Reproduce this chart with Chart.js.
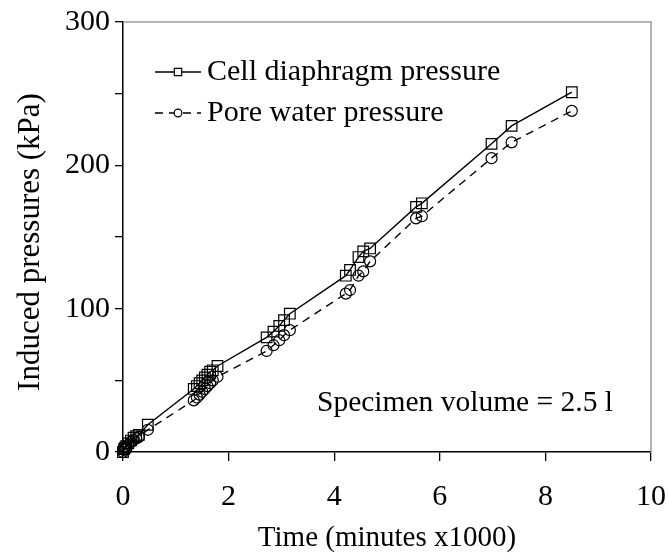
<!DOCTYPE html>
<html>
<head>
<meta charset="utf-8">
<script src="https://cdn.jsdelivr.net/npm/chart.js@4.4.0/dist/chart.umd.min.js"></script>
<style>
html,body{margin:0;padding:0;background:#fff;}
canvas{display:block;}
</style>
</head>
<body>
<canvas id="c" width="669" height="560"></canvas>
<script>
// Data
const times = [0, 0.02, 0.04, 0.06, 0.1, 0.15, 0.2, 0.25, 0.3, 0.47, 1.34, 1.4, 1.45, 1.5, 1.55, 1.6, 1.65, 1.7, 1.79, 2.72, 2.85, 2.96, 3.05, 3.16, 4.22, 4.3, 4.46, 4.55, 4.68, 5.55, 5.66, 6.98, 7.36, 8.5];
const cellPressure = [0, 2, 3, 4, 6, 8, 10, 11, 12, 19, 44, 46, 48, 50, 52, 54, 56, 57, 60, 80, 84, 88, 92, 96.5, 123, 127, 136, 140, 142, 171, 173.5, 215, 227.5, 251];
const porePressure = [0, 1.5, 2.5, 3.5, 5, 7, 8.5, 9.5, 10.5, 15.5, 36, 38, 40, 42, 44, 46, 48, 50, 52.5, 70.5, 74.5, 78, 81.5, 85, 110.5, 113, 123, 126, 133, 163, 164.5, 205, 216, 238];
const seriesNames = ["Cell diaphragm pressure", "Pore water pressure"];
const xTicks = [0, 2, 4, 6, 8, 10];
const yTicks = [0, 100, 200, 300];
const xTitle = "Time (minutes x1000)";
const yTitle = "Induced pressures (kPa)";
const note = "Specimen volume = 2.5 l";

const FONT = "'Liberation Serif', 'Times New Roman', serif";
const FS = 30;

const toPts = (ys) => times.map((t, i) => ({x: t, y: ys[i]}));

const legendPlugin = {
  id: 'inlegend',
  afterDatasetsDraw(chart) {
    const ctx = chart.ctx;
    ctx.save();
    // gray top/right frame
    const a = chart.chartArea;
    ctx.strokeStyle = '#9a9a9a';
    ctx.lineWidth = 1.5;
    ctx.beginPath();
    ctx.moveTo(a.left, a.top);
    ctx.lineTo(a.right, a.top);
    ctx.lineTo(a.right, a.bottom);
    ctx.stroke();

    const items = [{y: 72, ds: 0}, {y: 113, ds: 1}];
    items.forEach(it => {
      const ds = chart.data.datasets[it.ds];
      ctx.strokeStyle = '#000';
      ctx.lineWidth = 1.3;
      ctx.setLineDash(ds.borderDash || []);
      ctx.beginPath();
      ctx.moveTo(155, it.y);
      ctx.lineTo(201, it.y);
      ctx.stroke();
      ctx.setLineDash([]);
      ctx.fillStyle = '#fff';
      ctx.strokeStyle = '#000';
      ctx.lineWidth = 1.2;
      Chart.helpers.drawPoint(ctx, {pointStyle: ds.pointStyle, radius: ds.pointRadius * 0.7, borderWidth: 1.2}, 178, it.y);
      ctx.fillStyle = '#000';
      ctx.font = FS + "px " + FONT;
      ctx.textBaseline = 'middle';
      ctx.textAlign = 'left';
      ctx.fillText(seriesNames[it.ds], 207, it.y);
    });
    ctx.font = "29.5px " + FONT;
    ctx.fillText(note, 317, 403);

    // y axis title
    ctx.save();
    ctx.translate(31, (a.top + a.bottom) / 2 + 5);
    ctx.rotate(-Math.PI / 2);
    ctx.font = "31px " + FONT;
    ctx.textAlign = 'center';
    ctx.textBaseline = 'middle';
    ctx.fillText(yTitle, 0, 0);
    ctx.restore();
    ctx.restore();
  }
};

new Chart(document.getElementById('c'), {
  type: 'scatter',
  data: {
    datasets: [
      {
        label: seriesNames[0],
        data: toPts(cellPressure),
        showLine: true,
        borderColor: '#000',
        borderWidth: 1.4,
        pointStyle: 'rect',
        pointRadius: 7.5,
        pointBorderWidth: 1.2,
        pointBackgroundColor: 'rgba(0,0,0,0)',
        pointBorderColor: '#000',
        tension: 0,
        clip: false
      },
      {
        label: seriesNames[1],
        data: toPts(porePressure),
        showLine: true,
        borderColor: '#000',
        borderWidth: 1.4,
        borderDash: [8, 6],
        pointStyle: 'circle',
        pointRadius: 5.5,
        pointBorderWidth: 1.2,
        pointBackgroundColor: 'rgba(0,0,0,0)',
        pointBorderColor: '#000',
        tension: 0,
        clip: false
      }
    ]
  },
  options: {
    responsive: false,
    animation: false,
    devicePixelRatio: 1,
    layout: {padding: {top: 22, right: 18, left: 0, bottom: 0}},
    plugins: {legend: {display: false}, tooltip: {enabled: false}},
    scales: {
      x: {
        type: 'linear',
        min: 0, max: 10,
        afterFit(s) { s.height = 108; s.paddingRight = 0; s.paddingLeft = 0; },
        afterBuildTicks(s) { s.ticks = xTicks.map(v => ({value: v})); },
        ticks: {color: '#000', font: {family: FONT, size: FS}, padding: 18, maxRotation: 0},
        grid: {drawOnChartArea: false, drawTicks: true, tickLength: 9, color: '#000', lineWidth: 1.3},
        border: {display: true, color: '#000', width: 1.5},
        title: {display: true, text: xTitle, color: '#000', font: {family: FONT, size: 29}, padding: {top: 0, bottom: 4}}
      },
      y: {
        type: 'linear',
        min: 0, max: 300,
        afterFit(s) { s.width = 123; s.paddingTop = 0; s.paddingBottom = 0; },
        afterBuildTicks(s) {
          const t = [];
          for (let v = 0; v <= 300; v += 50) t.push({value: v});
          s.ticks = t;
        },
        ticks: {color: '#000', font: {family: FONT, size: FS}, padding: 5,
          callback: (v) => yTicks.includes(v) ? String(v) : ''},
        grid: {drawOnChartArea: false, drawTicks: true, tickLength: 8, color: '#000', lineWidth: 1.3},
        border: {display: true, color: '#000', width: 1.5},
        title: {display: false}
      }
    }
  },
  plugins: [legendPlugin]
});
</script>
</body>
</html>
